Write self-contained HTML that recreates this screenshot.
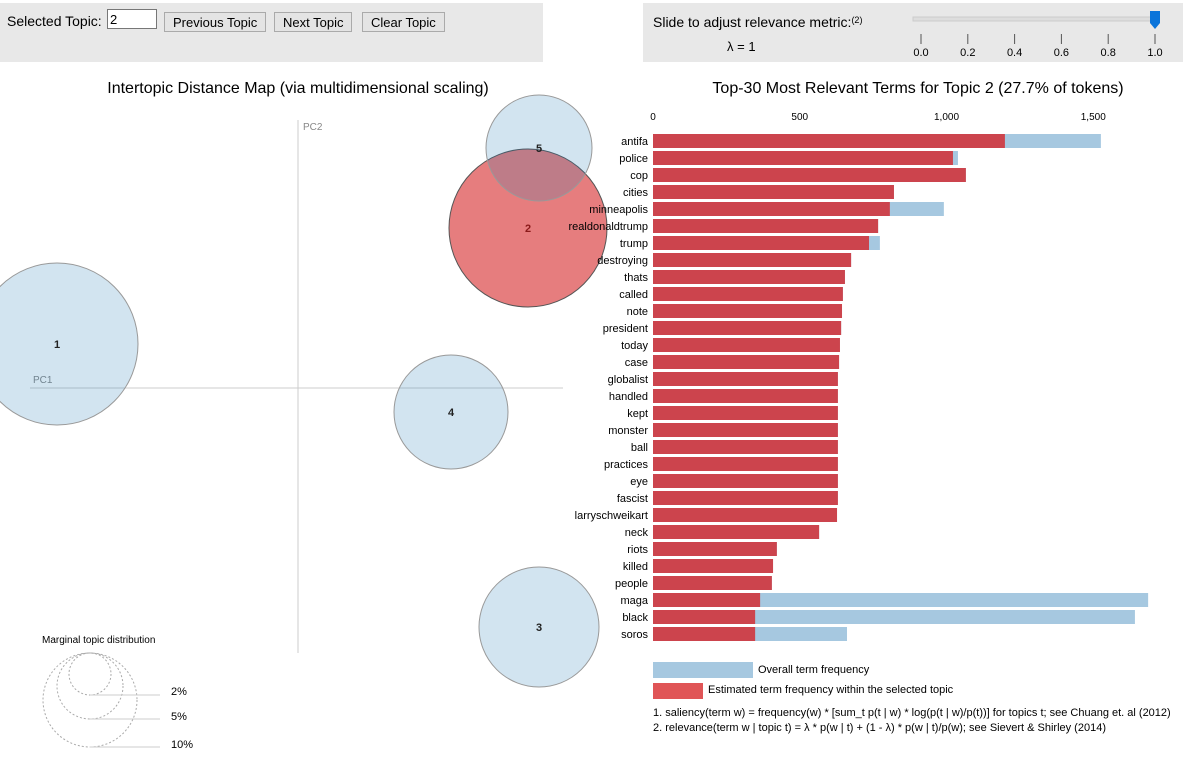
<!DOCTYPE html>
<html><head><meta charset="utf-8"><style>
body{margin:0;width:1192px;height:763px;background:#fff;font-family:"Liberation Sans",Arial,sans-serif;overflow:hidden;position:relative}
.panel{position:absolute;background:#e8e8e8}
button{font-family:"Liberation Sans",Arial,sans-serif;font-size:13px;background:#e4e4e4;border:1px solid #aaa;padding:0 8px;height:20px;position:absolute;top:9px;color:#000}
</style></head><body>
<div class="panel" style="left:0;top:3px;width:543px;height:59px">
 <span style="position:absolute;left:7px;top:10px;font-size:14px">Selected Topic:</span>
 <input value="2" style="position:absolute;left:107px;top:6px;width:44px;height:18px;font-size:13px;border:1px solid #777;padding:0 2px;font-family:'Liberation Sans',sans-serif">
 <button style="left:164px">Previous Topic</button>
 <button style="left:274px">Next Topic</button>
 <button style="left:362px">Clear Topic</button>
</div>
<div class="panel" style="left:643px;top:3px;width:540px;height:59px"></div>
<svg width="1192" height="763" style="position:absolute;left:0;top:0" id="svg">
 <text x="653" y="27" font-size="14">Slide to adjust relevance metric:<tspan font-size="9" dy="-4">(2)</tspan></text>
 <text x="727" y="51" font-size="13">λ = 1</text>
 <rect x="913" y="17" width="245" height="4" fill="#ddd" stroke="#ccc"/>
 <path d="M1150,11 h10 v12 l-5,6 l-5,-6z" fill="#0a74da"/>
 <g id="sliderTicks"></g>
 <text x="298" y="93" font-size="16" text-anchor="middle">Intertopic Distance Map (via multidimensional scaling)</text>
 <text x="918" y="93" font-size="16" text-anchor="middle">Top-30 Most Relevant Terms for Topic 2 (27.7% of tokens)</text>
 <line x1="30" y1="388" x2="563" y2="388" stroke="#ccc"/>
 <line x1="298" y1="120" x2="298" y2="653" stroke="#ccc"/>
 <text x="33" y="383" font-size="10" fill="#888">PC1</text>
 <text x="303" y="130" font-size="10" fill="#888">PC2</text>
 <g id="circles"></g>
 <text x="42" y="643" font-size="10">Marginal topic distribution</text>
 <g>
  <circle cx="90" cy="674" r="21" fill="none" stroke="#aaa" stroke-dasharray="2,2"/>
  <circle cx="90" cy="686" r="33" fill="none" stroke="#aaa" stroke-dasharray="2,2"/>
  <circle cx="90" cy="700" r="47" fill="none" stroke="#aaa" stroke-dasharray="2,2"/>
  <line x1="90" y1="695" x2="160" y2="695" stroke="#ccc"/>
  <line x1="90" y1="719" x2="160" y2="719" stroke="#ccc"/>
  <line x1="90" y1="747" x2="160" y2="747" stroke="#ccc"/>
  <text x="171" y="695" font-size="11">2%</text>
  <text x="171" y="720" font-size="11">5%</text>
  <text x="171" y="748" font-size="11">10%</text>
 </g>
 <g id="bars"></g>
 <rect x="653" y="662" width="100" height="16" fill="#a6c8e0"/>
 <text x="758" y="673" font-size="11">Overall term frequency</text>
 <rect x="653" y="683" width="50" height="16" fill="#e05557"/>
 <text x="708" y="693" font-size="11">Estimated term frequency within the selected topic</text>
 <text x="653" y="716" font-size="11">1. saliency(term w) = frequency(w) * [sum_t p(t | w) * log(p(t | w)/p(t))] for topics t; see Chuang et. al (2012)</text>
 <text x="653" y="731" font-size="11">2. relevance(term w | topic t) = λ * p(w | t) + (1 - λ) * p(w | t)/p(w); see Sievert &amp; Shirley (2014)</text>
</svg>
<script>
const terms=["antifa","police","cop","cities","minneapolis","realdonaldtrump","trump","destroying","thats","called","note","president","today","case","globalist","handled","kept","monster","ball","practices","eye","fascist","larryschweikart","neck","riots","killed","people","maga","black","soros"];
const overallFreq=[1526,1039,1066,821,991,767,773,675,654,647,644,641,637,634,630,630,630,630,630,630,630,630,627,566,422,409,405,1687,1642,661];
const topicFreq=[1199,1022,1066,821,807,767,736,675,654,647,644,641,637,634,630,630,630,630,630,630,630,630,627,566,422,409,405,365,348,348];
const xTicks=[0,500,1000,1500];
const xTickLabels=["0","500","1,000","1,500"];
const sliderTicks=["0.0","0.2","0.4","0.6","0.8","1.0"];
const topicIds=[1,2,3,4,5];
const topicX=[57,528,539,451,539];
const topicY=[344,228,627,412,148];
const topicR=[81,79,60,57,53];
const NS="http://www.w3.org/2000/svg";
function mk(t,a,p){const e=document.createElementNS(NS,t);for(const k in a)e.setAttribute(k,a[k]);p.appendChild(e);return e;}
const x=v=>653+v*0.2935;
const y=i=>134+i*17;
const bars=document.getElementById('bars');
xTicks.forEach((v,i)=>{const t=mk('text',{x:x(v),y:120,'font-size':10,'text-anchor':'middle'},bars);t.textContent=xTickLabels[i];

});
terms.forEach((term,i)=>{
 const b=mk('rect',{x:x(0),y:y(i),width:x(overallFreq[i])-x(0),height:14,fill:'#a6c8e0'},bars);
 
 
 const r=mk('rect',{x:x(0),y:y(i),width:x(topicFreq[i])-x(0),height:14,fill:'#cc444d'},bars);
 
 
 const t=mk('text',{x:648,y:y(i)+11,'font-size':11,'text-anchor':'end'},bars);t.textContent=term;
 
 
});
const st=document.getElementById('sliderTicks');
sliderTicks.forEach((s,i)=>{const px=921+i*46.8;
 mk('line',{x1:px,y1:34,x2:px,y2:44,stroke:'#555'},st);
 const t=mk('text',{x:px,y:56,'font-size':11,'text-anchor':'middle'},st);t.textContent=s;
 
 });
const cg=document.getElementById('circles');
[1,0,3,2,4].forEach(i=>{
 const sel=topicIds[i]===2;
 const c=mk('circle',{cx:topicX[i],cy:topicY[i],r:topicR[i],fill:sel?'#d62728':'#1f77b4','fill-opacity':sel?0.6:0.2,stroke:sel?'#555':'#999','stroke-width':1},cg);
 
 
});
topicIds.forEach((id,i)=>{const t=mk('text',{x:topicX[i],y:topicY[i]+4,'font-size':11,'font-weight':'bold','text-anchor':'middle',fill:id===2?'#8b1a1a':'#222'},cg);t.textContent=id;
 
 });
</script>
</body></html>
